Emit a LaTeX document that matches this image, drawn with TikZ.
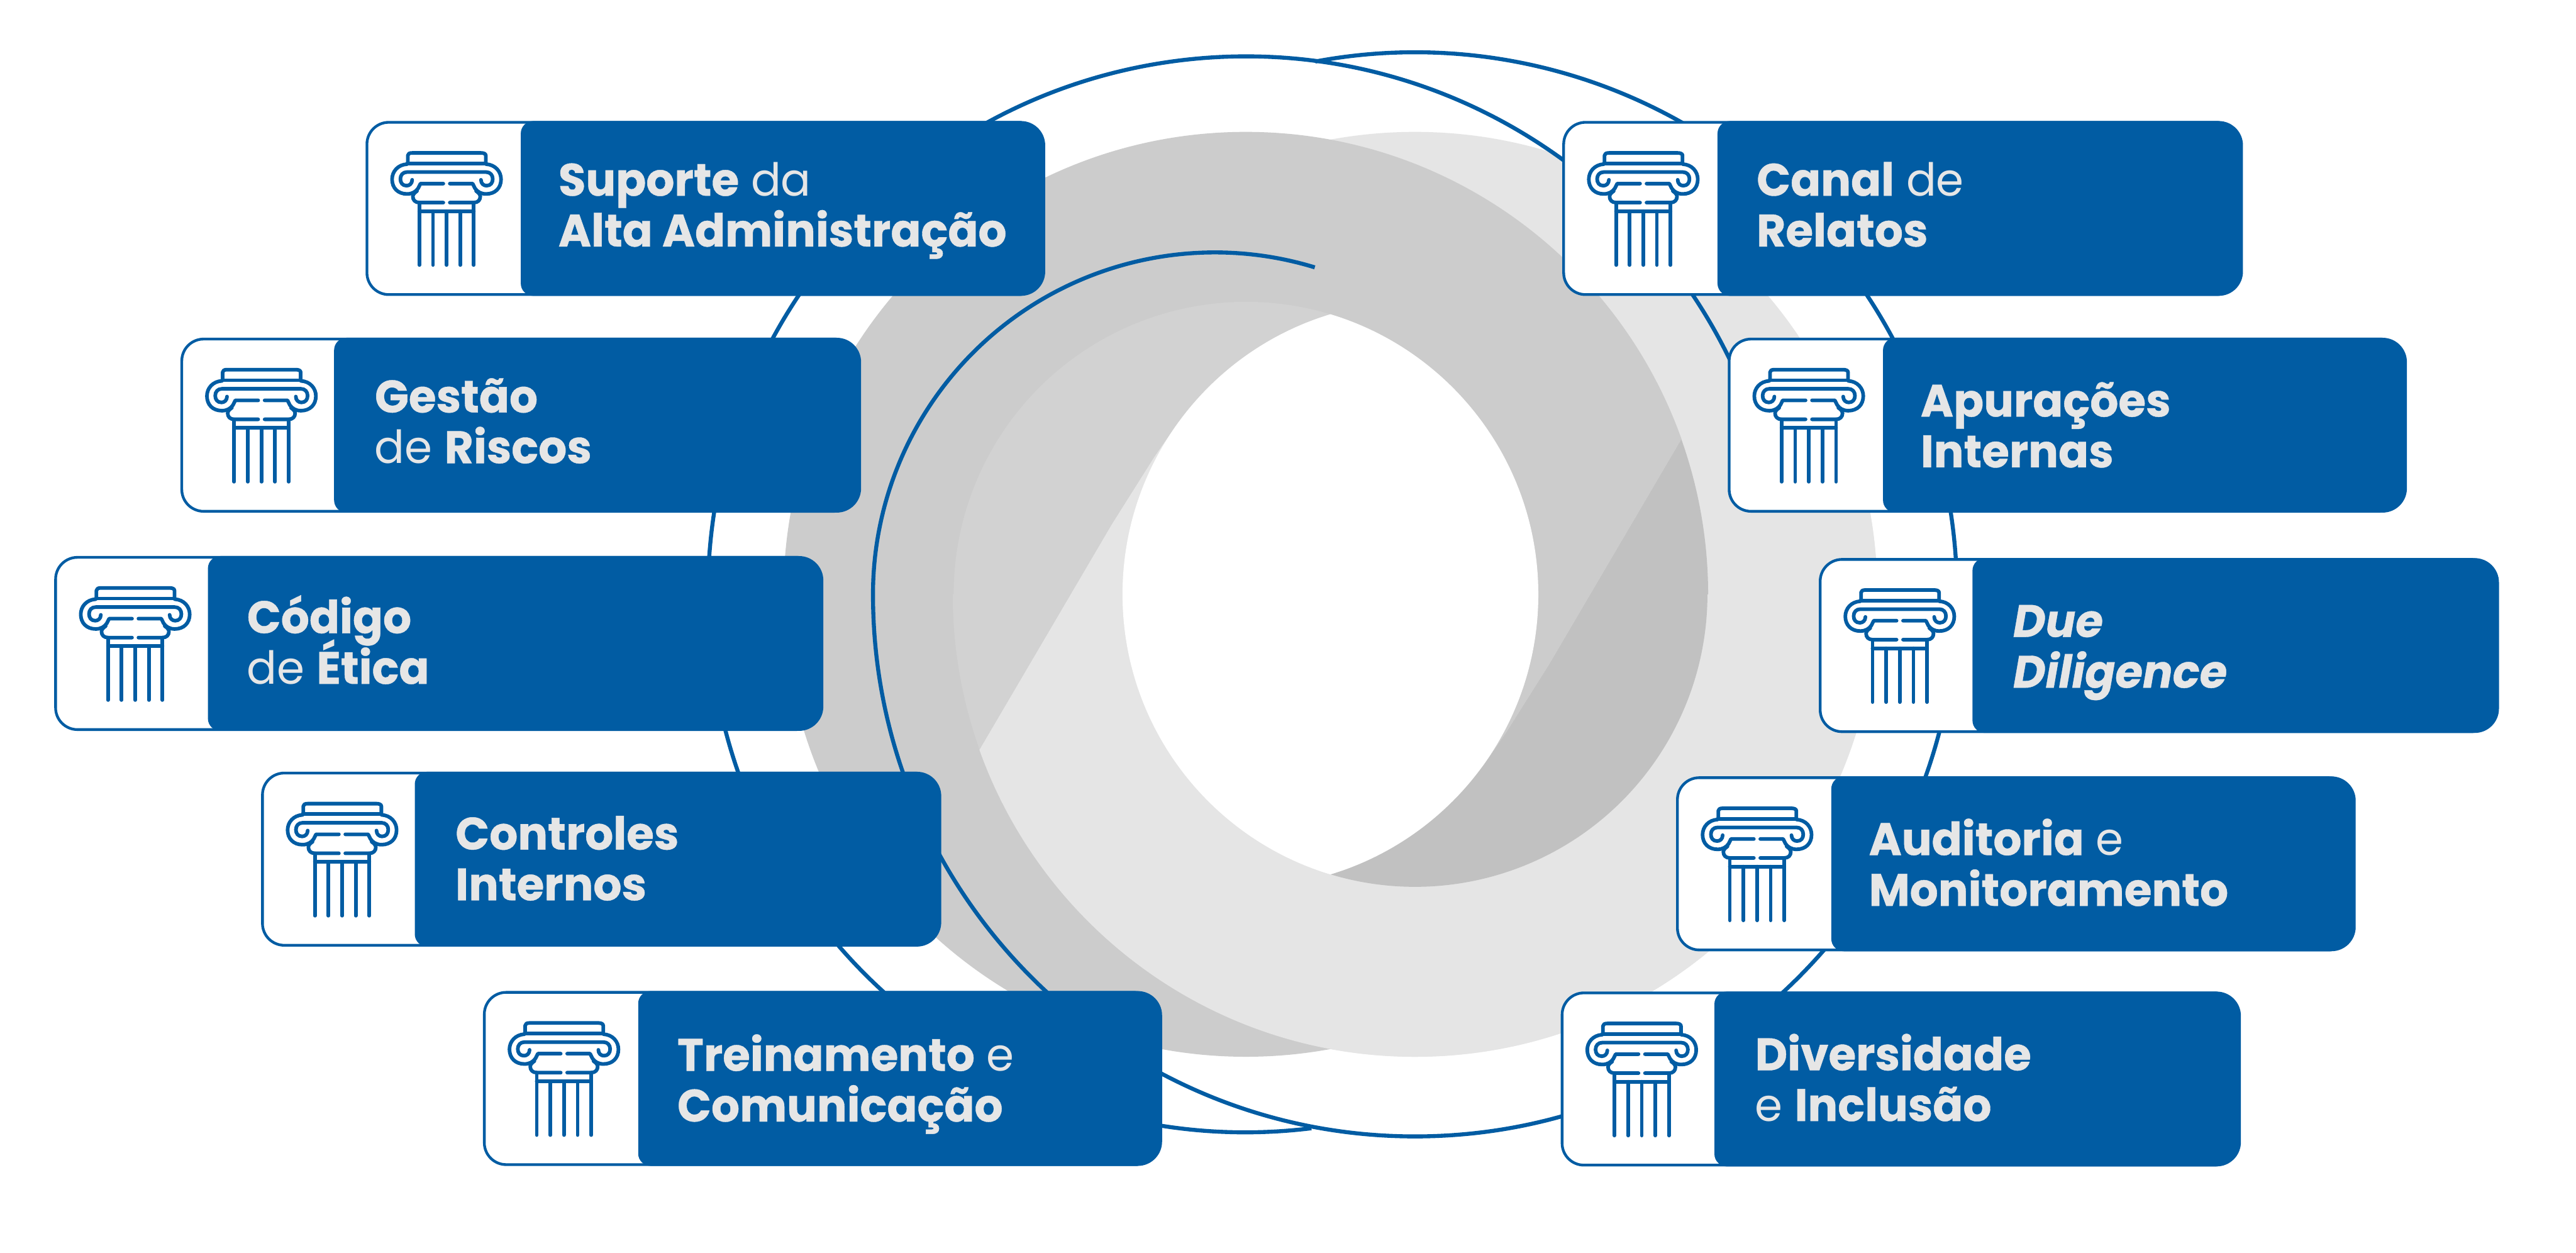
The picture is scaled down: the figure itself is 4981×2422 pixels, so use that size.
\documentclass[tikz,border=0pt]{standalone}
\usepackage{fontspec}
\setmainfont{Poppins}[FakeStretch=0.98,BoldFeatures={FakeBold=0.6},BoldItalicFeatures={FakeBold=0.6}]
\definecolor{brandblue}{HTML}{015CA3}
\definecolor{textgrey}{HTML}{E6E6E6}
\definecolor{ringlight}{HTML}{E5E5E5}
\definecolor{ringmid}{HTML}{CCCCCC}
\definecolor{ringsoft}{HTML}{D2D2D2}
\definecolor{ringdark}{HTML}{C1C1C1}
\tikzset{
  spiral/.style={draw=brandblue,line width=2.2pt},
  cardedge/.style={draw=brandblue,line width=1.5pt,fill=white,rounded corners=12pt},
  cardfill/.style={fill=brandblue},
  cardtext/.style={text=textgrey,inner sep=0pt,align=left,anchor=north west,
    font=\fontsize{25}{27.9}\selectfont,
    execute at begin node={\lineskiplimit=-100pt\relax}},
  iconline/.style={draw=brandblue,line width=2pt,line cap=round,line join=round},
}
\newcommand\columnicon[2]{%
  \begin{scope}[shift={(#1-27,#2-24)},xscale=1/2.24,yscale=1/3]
    \draw[iconline] (243,318) -- (243,272) .. controls (243,262) and (250,257) .. (262,257) -- (560,257) .. controls (572,257) and (581,262) .. (581,272) -- (581,318);
    \draw[iconline] (240,318) -- (582,318);
    \draw[iconline] (240,322) .. controls (200,325) and (175,365) .. (175,410) .. controls (175,460) and (200,495) .. (240,495) .. controls (262,495) and (278,482) .. (288,462) -- (298,435) -- (397,435);
    \draw[iconline] (582,322) .. controls (622,325) and (647,365) .. (647,410) .. controls (647,460) and (622,495) .. (582,495) .. controls (560,495) and (544,482) .. (534,462) -- (524,435) -- (425,435);
    \draw[iconline] (262,413) .. controls (262,435) and (250,447) .. (238,447) .. controls (220,447) and (211,430) .. (211,408) .. controls (211,385) and (222,368) .. (240,368) -- (582,368) .. controls (600,368) and (611,385) .. (611,408) .. controls (611,430) and (602,447) .. (584,447) .. controls (572,447) and (560,435) .. (560,413);
    \draw[iconline] (283,478) .. controls (270,490) and (265,500) .. (265,510) .. controls (265,530) and (275,545) .. (293,545) -- (397,545);
    \draw[iconline] (539,478) .. controls (552,490) and (557,500) .. (557,510) .. controls (557,530) and (547,545) .. (529,545) -- (425,545);
    \draw[iconline] (293,545) -- (293,907);
    \draw[iconline] (529,545) -- (529,907);
    \draw[iconline] (352,595) -- (352,907);
    \draw[iconline] (411,595) -- (411,907);
    \draw[iconline] (470,595) -- (470,907);
    \draw[iconline] (293,595) -- (529,595);
  \end{scope}}
% name, left, top, right, blue-panel offset, text dx, text dy, text
\newcommand\card[8]{%
  \path[cardedge] (#2+2.5,#3+2.5) rectangle (#4-10,#3+335.5);
  \fill[cardfill] (#2+#5,#3+24) arc[start angle=180,end angle=270,radius=24]
    -- (#4-47,#3) arc[start angle=-90,end angle=0,radius=47]
    -- (#4,#3+291) arc[start angle=0,end angle=90,radius=47]
    -- (#2+#5+24,#3+338) arc[start angle=90,end angle=180,radius=24] -- cycle;
  \columnicon{#2}{#3}
  \node[cardtext] (#1) at (#2+372+#6,#3+75+#7) {\strut #8};}
\begin{document}
\begin{tikzpicture}[x=0.01cm,y=0.01cm,yscale=-1]
\useasboundingbox (0,0) rectangle (4981,2422);
\fill[white] (0,0) rectangle (4981,2422);
% discs
\fill[ringlight] (2736,1149) circle[radius=894];
\fill[ringmid] (2409,1149) circle[radius=894];
% lower sweep of the right disc, lying over the left one
\begin{scope}
  \clip (1744,1710) -- (1894,1449) -- (2150,1013) -- (2232,883) -- (2277,818) -- (2330,757)
    -- (2572,1149) -- (2815,1541) -- (2868,1480) -- (2913,1415) -- (2995,1285) -- (3251,849)
    -- (4000,849) -- (4000,2300) -- (1000,2300) -- cycle;
  \fill[ringlight] (2736,1149) circle[radius=894];
\end{scope}
% soft inner left region
\fill[ringsoft] (1894,1449) arc[start angle=160.4,end angle=180,radius=894]
  -- (1844,1149) arc[start angle=180,end angle=286.8,radius=565.5]
  -- (2330,757) -- (2277,818) -- (2232,883) -- (2150,1013) -- cycle;
% dark inner right region
\fill[ringdark] (3251,849) arc[start angle=-19.6,end angle=0,radius=894]
  -- (3301.5,1149) arc[start angle=0,end angle=106.8,radius=565.5]
  -- (2815,1541) -- (2868,1480) -- (2913,1415) -- (2995,1285) -- cycle;
% white lens
\begin{scope}
  \clip (2409,1149) circle[radius=565.5];
  \fill[white] (2736,1149) circle[radius=565.5];
\end{scope}
% blue spiral lines
\draw[spiral] (2349,1149) ++(-73:661) arc[start angle=-73,end angle=-180,radius=661]
  arc[start angle=-180,end angle=-460.6,radius=1048];
\draw[spiral] (2409,1149) ++(-277:1040) arc[start angle=-277,end angle=-23,radius=1040];
% cards
\card{suporte}{707}{234}{2021}{300}{0}{0}{\textbf{Suporte} da\\\textbf{Alta Administração}}
\card{gestao}{349}{653}{1665}{297}{3}{0}{\textbf{Gestão}\\de \textbf{Riscos}}
\card{codigo}{105}{1075}{1592}{297}{0}{0}{\textbf{Código}\\de \textbf{Ética}}
\card{controles}{505}{1492}{1820}{297}{3}{6}{\textbf{Controles}\\\textbf{Internos}}
\card{treinamento}{934}{1916}{2247}{300}{3}{8}{\textbf{Treinamento} e\\\textbf{Comunicação}}
\card{canal}{3021}{234}{4337}{300}{3}{0}{\textbf{Canal} de\\\textbf{Relatos}}
\card{apuracoes}{3341}{653}{4654}{300}{0}{8}{\textbf{Apurações}\\\textbf{Internas}}
\card{due}{3517}{1079}{4832}{297}{3}{8}{\textit{\textbf{Due}}\\\textit{\textbf{Diligence}}}
\card{auditoria}{3241}{1501}{4555}{300}{0}{6}{\textbf{Auditoria} e\\\textbf{Monitoramento}}
\card{diversidade}{3018}{1917}{4333}{297}{3}{6}{\textbf{Diversidade}\\e \textbf{Inclusão}}
\end{tikzpicture}
\end{document}
